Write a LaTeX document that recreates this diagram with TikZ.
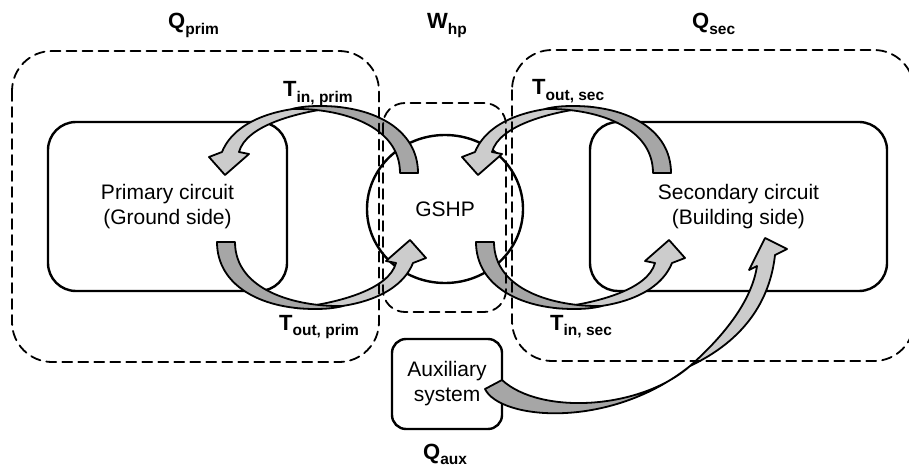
\documentclass[tikz,border=0pt]{standalone}
\usepackage{fontspec}
\setmainfont{Liberation Sans}
\usetikzlibrary{shapes.geometric}

\tikzset{
  dashbox/.style={draw, line width=1.8pt, dash pattern=on 10pt off 6pt, rounded corners=40pt},
  solidbox/.style={draw, line width=2.4pt, rounded corners=28pt, inner sep=0pt, align=center,
                   font=\fontsize{21}{25}\selectfont},
  hpbody/.style={draw, ellipse, line width=2.4pt, inner sep=0pt, font=\fontsize{21}{25}\selectfont},
  darkpart/.style={draw, fill=black!35, line width=1.8pt, line join=round},
  lightpart/.style={draw, fill=black!20, line width=1.8pt, line join=round},
  qlabel/.style={anchor=base west, inner sep=0pt, font=\bfseries\fontsize{22}{26}\selectfont},
}
\newcommand{\subs}[2]{#1\raisebox{-5.5pt}{\fontsize{15.5}{18}\selectfont #2}}

%% ribbon arrow: tail bottom right, arches over, head bottom left
\newcommand{\flowarrow}{%
  \draw[lightpart] (340,107) .. controls (280,104) and (235,120) .. (222,152)
    -- (209,157) -- (225,175) -- (249,154) -- (239,152)
    .. controls (246,126) and (295,112) .. (340,107) -- cycle;
  \draw[darkpart] (418,173) .. controls (418,130) and (375,106) .. (320,106)
    .. controls (308,106) and (300,107) .. (292,109)
    .. controls (340,108) and (400,125) .. (400,173) -- cycle;
}

\begin{document}
\begin{tikzpicture}[x=1pt, y=-1pt, line cap=round]

  \useasboundingbox (0,0) rectangle (909,470);

  %% ════ boxes ════
  \node[solidbox, minimum width=239pt, minimum height=169pt] (prim) at (167.5,206.5)
    {Primary circuit\\(Ground side)};
  \node[solidbox, minimum width=297pt, minimum height=169pt] (sec) at (738.5,206.5)
    {Secondary circuit\\(Building side)};
  \node[hpbody, minimum width=156pt, minimum height=148pt] (gshp) at (445,209) {GSHP};
  \node[solidbox, rounded corners=14pt, minimum width=110pt, minimum height=90pt] (aux) at (447,384)
    {Auxiliary\\system};

  %% ════ flow arrows ════
  \flowarrow
  \begin{scope}[rotate around={180:(317.5,207.5)}]
    \flowarrow
  \end{scope}
  \begin{scope}[shift={(253,0)}]
    \flowarrow
  \end{scope}
  \begin{scope}[rotate around={180:(447,207.5)}]
    \flowarrow
  \end{scope}

  % auxiliary heat into the building side
  \draw[darkpart] (485,389) .. controls (500,420) and (610,430) .. (690,366)
    .. controls (640,410) and (540,415) .. (502,380) -- cycle;
  \draw[lightpart] (690,366) .. controls (725,335) and (752,300) .. (757,266)
    -- (749,270) -- (765,238) -- (787,249) -- (775,255)
    .. controls (770,300) and (745,340) .. (690,366) -- cycle;

  %% ════ balance boundaries ════
  \draw[dashbox] (12,51) rectangle (379,362);
  \draw[dashbox] (512,50) rectangle (914,361);
  \draw[dashbox, rounded corners=22pt] (383,103) rectangle (506,312);

  %% ════ labels ════
  \node[qlabel] (qprim) at (168,29) {\subs{Q}{prim}};
  \node[qlabel] (whp) at (427,29) {\subs{W}{hp}};
  \node[qlabel] (qsec) at (692,29) {\subs{Q}{sec}};
  \node[qlabel] (tinprim) at (283,97) {\subs{T}{in, prim}};
  \node[qlabel] (toutsec) at (532,95) {\subs{T}{out, sec}};
  \node[qlabel] (toutprim) at (279,330) {\subs{T}{out, prim}};
  \node[qlabel] (tinsec) at (550,330) {\subs{T}{in, sec}};
  \node[qlabel] (qaux) at (423,459) {\subs{Q}{aux}};

\end{tikzpicture}
\end{document}
